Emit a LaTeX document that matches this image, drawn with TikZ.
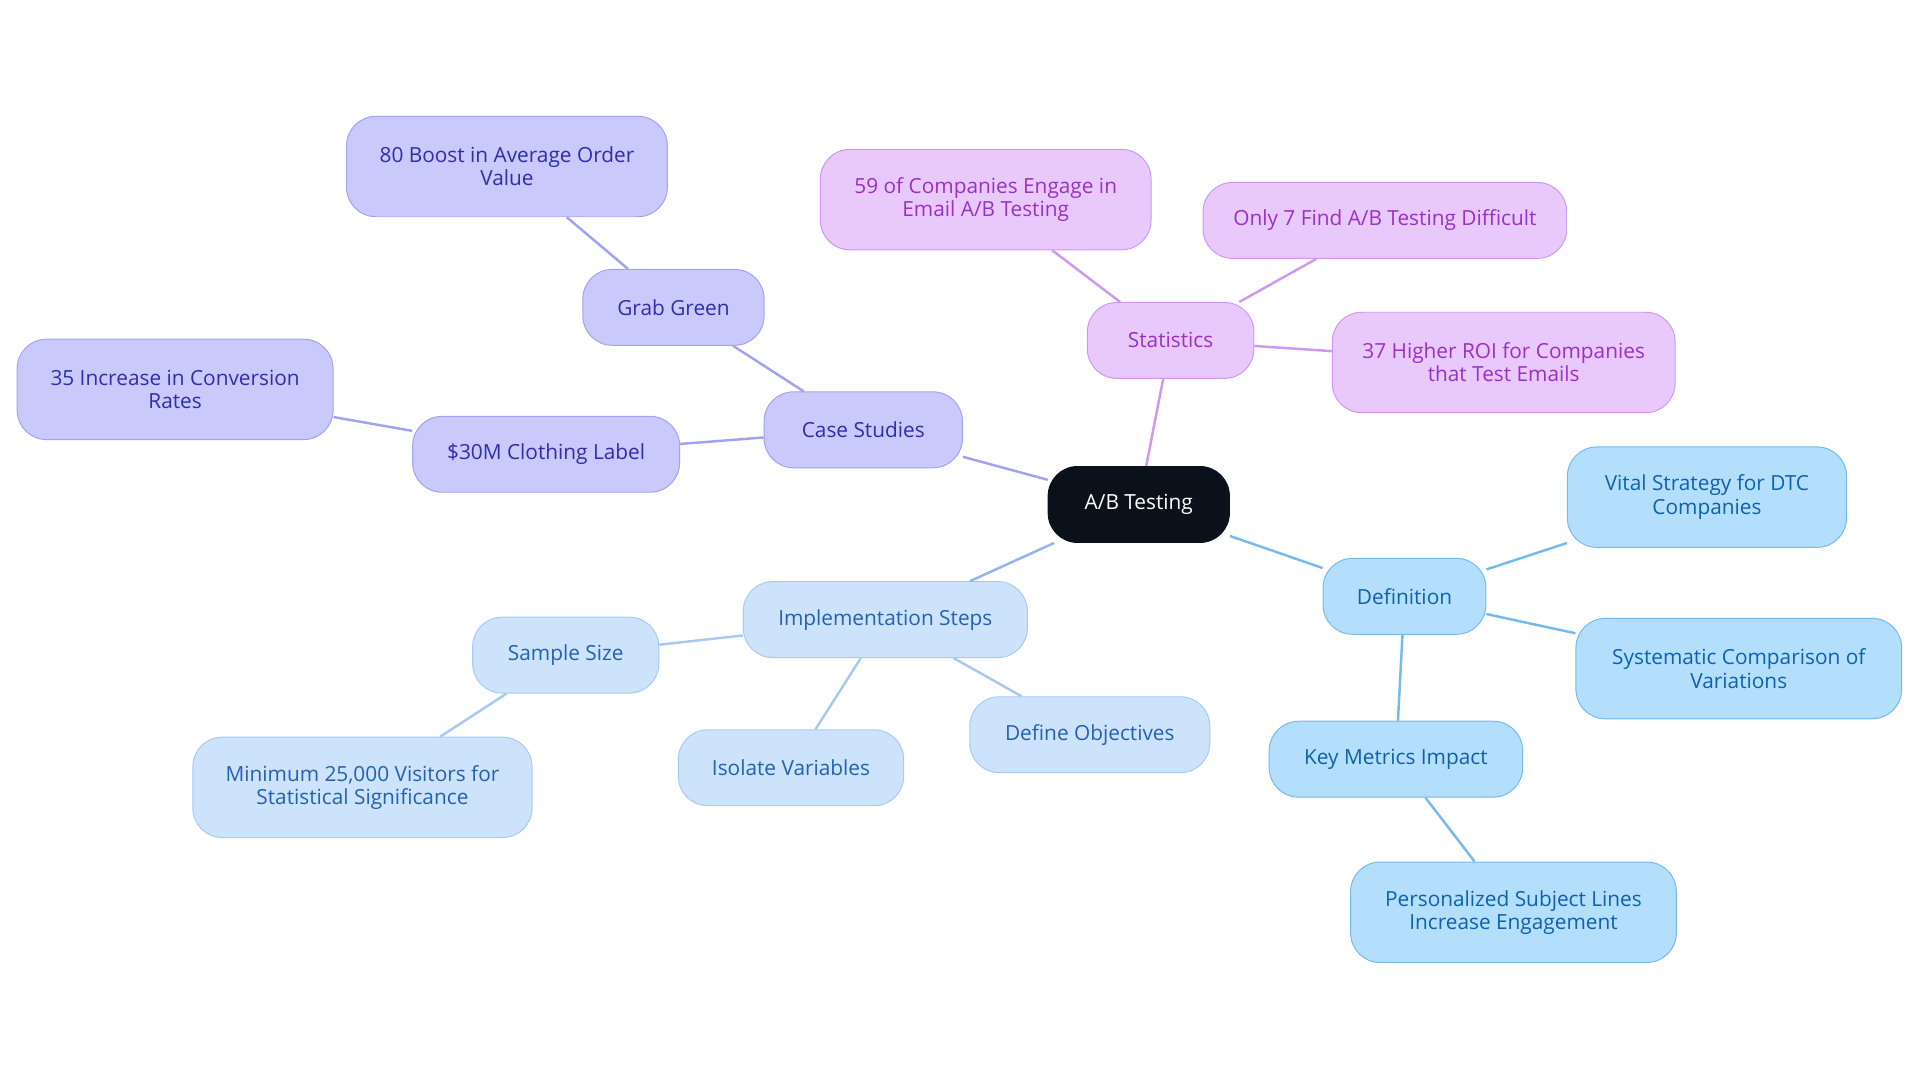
\documentclass[tikz,border=0pt]{standalone}
\usepackage{fontspec}
\setmainfont{Open Sans}
\begin{document}
\begin{tikzpicture}[x=1pt,y=-1pt,
 base/.style={draw,line width=0.8pt,rounded corners=24pt,align=center,font=\fontsize{17}{19}\selectfont,inner sep=0pt},
 cs/.style={base,fill=csf,draw=csd,text=cst},
 st/.style={base,fill=stf,draw=std,text=stt},
 df/.style={base,fill=dff,draw=dfd,text=dft},
 im/.style={base,fill=imf,draw=imd,text=imt},
 e/.style={line width=2pt}]
\definecolor{csf}{HTML}{C9C9FC}\definecolor{csd}{HTML}{A2A2F2}\definecolor{cst}{HTML}{2E2EB0}
\definecolor{stf}{HTML}{E9C9FC}\definecolor{std}{HTML}{CE98F0}\definecolor{stt}{HTML}{9A30C8}
\definecolor{dff}{HTML}{B3DFFC}\definecolor{dfd}{HTML}{74BAEE}\definecolor{dft}{HTML}{1060B0}
\definecolor{imf}{HTML}{CDE2FB}\definecolor{imd}{HTML}{A8CAF2}\definecolor{imt}{HTML}{2262B4}
\useasboundingbox (0,0) rectangle (1568,884);
\node[base,fill={rgb,255:red,11;green,17;blue,27},draw={rgb,255:red,11;green,17;blue,27},text=white,minimum width=148,minimum height=62] (ab) at (930,412) {A/B Testing};
\node[cs,minimum width=162,minimum height=62] (cs) at (705,351) {Case Studies};
\node[cs,minimum width=148,minimum height=62] (gg) at (550,251) {Grab Green};
\node[cs,minimum width=262,minimum height=82] (b80) at (414,136) {80 Boost in Average Order\\Value};
\node[cs,minimum width=218,minimum height=62] (cl) at (446,371) {\$30M Clothing Label};
\node[cs,minimum width=258,minimum height=82] (i35) at (143,318) {35 Increase in Conversion\\Rates};
\node[st,minimum width=136,minimum height=62] (st) at (956,278) {Statistics};
\node[st,minimum width=270,minimum height=82] (s59) at (805,163) {59 of Companies Engage in\\Email A/B Testing};
\node[st,minimum width=297,minimum height=62] (s7) at (1131,180) {Only 7 Find A/B Testing Difficult};
\node[st,minimum width=280,minimum height=82] (s37) at (1228,296) {37 Higher ROI for Companies\\that Test Emails};
\node[df,minimum width=133,minimum height=62] (df) at (1147,487) {Definition};
\node[df,minimum width=228,minimum height=82] (vs) at (1394,406) {Vital Strategy for DTC\\Companies};
\node[df,minimum width=266,minimum height=82] (sc) at (1420,546) {Systematic Comparison of\\Variations};
\node[df,minimum width=207,minimum height=62] (km) at (1140,620) {Key Metrics Impact};
\node[df,minimum width=266,minimum height=82] (ps) at (1236,745) {Personalized Subject Lines\\Increase Engagement};
\node[im,minimum width=232,minimum height=62] (im) at (723,506) {Implementation Steps};
\node[im,minimum width=152,minimum height=62] (ss) at (462,535) {Sample Size};
\node[im,minimum width=277,minimum height=82] (mn) at (296,643) {Minimum 25,000 Visitors for\\Statistical Significance};
\node[im,minimum width=184,minimum height=62] (iv) at (646,627) {Isolate Variables};
\node[im,minimum width=196,minimum height=62] (do) at (890,600) {Define Objectives};
\begin{scope}[on background layer/.style={}]
\end{scope}
\begin{pgfonlayer}{main}\end{pgfonlayer}
\draw[e,csd] (ab) -- (cs); \draw[e,csd] (cs) -- (gg); \draw[e,csd] (gg) -- (b80);
\draw[e,csd] (cs) -- (cl); \draw[e,csd] (cl) -- (i35);
\draw[e,std] (ab) -- (st); \draw[e,std] (st) -- (s59); \draw[e,std] (st) -- (s7); \draw[e,std] (st) -- (s37);
\draw[e,dfd] (ab) -- (df); \draw[e,dfd] (df) -- (vs); \draw[e,dfd] (df) -- (sc); \draw[e,dfd] (df) -- (km); \draw[e,dfd] (km) -- (ps);
\draw[e,imd!80!blue!60!imd] (ab) -- (im); \draw[e,imd] (im) -- (ss); \draw[e,imd] (ss) -- (mn); \draw[e,imd] (im) -- (iv); \draw[e,imd] (im) -- (do);
\end{tikzpicture}
\end{document}
